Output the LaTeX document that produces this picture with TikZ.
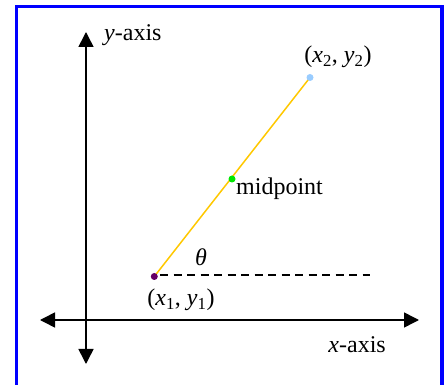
\documentclass[tikz,border=0pt]{standalone}
\usepackage{fontspec}
\setmainfont{Liberation Serif}
\usetikzlibrary{arrows.meta}
\definecolor{frameblue}{RGB}{0,0,255}
\definecolor{segcol}{RGB}{255,200,0}
\definecolor{ptone}{RGB}{102,0,102}
\definecolor{pttwo}{RGB}{153,204,255}
\definecolor{ptmid}{RGB}{0,230,0}
\tikzset{
  axis/.style={line width=1.6pt,-{Triangle[length=15pt,width=15pt]}},
  lbl/.style={font=\fontsize{24}{27}\selectfont,inner sep=0pt},
  dot/.style={circle,inner sep=0pt,minimum size=#1},
}
\begin{document}
\begin{tikzpicture}[x=1pt,y=-1pt]
\useasboundingbox (0,0) rectangle (448,385);
\draw[frameblue,line width=3.5pt] (16.7,395) -- (16.7,6.3) -- (442,6.3) -- (442,395);
% axes
\coordinate (yc) at (86,200);
\coordinate (ytop) at (86,32);
\coordinate (ybot) at (86,364);
\coordinate (xl) at (40,320);
\coordinate (xr) at (419,320);
\draw[axis] (yc) -- (ytop);
\draw[axis] (yc) -- (ybot);
\draw[axis] (yc |- xl) -- (xl);
\draw[axis] (yc |- xl) -- (xr);
% points
\coordinate (p1) at (154.3,276.5);
\coordinate (p2) at (310,77.5);
\coordinate (pm) at (232,179);
\coordinate (dend) at (370,275);
\draw[segcol,line width=1.5pt] (p1) -- (p2);
\draw[dashed,line width=1.4pt,dash pattern=on 8pt off 5.5pt] (160,275) -- (dend);
\node[dot=7pt,fill=ptone] (n1) at (p1) {};
\node[dot=7pt,fill=pttwo] (n2) at (p2) {};
\node[dot=7pt,fill=ptmid] (nm) at (pm) {};
% labels
\node[lbl,anchor=west] (ylab) at (104,35) {\textit{y}-axis};
\node[lbl] (p2lab) at (338,57) {(\textit{x}\textsubscript{2}, \textit{y}\textsubscript{2})};
\node[lbl,anchor=west] (mlab) at (236,189) {midpoint};
\node[lbl] (thlab) at (201,257) {\textit{θ}};
\node[lbl] (p1lab) at (181,300) {(\textit{x}\textsubscript{1}, \textit{y}\textsubscript{1})};
\node[lbl,anchor=east] (xlab) at (386,345) {\textit{x}-axis};
\end{tikzpicture}
\end{document}
